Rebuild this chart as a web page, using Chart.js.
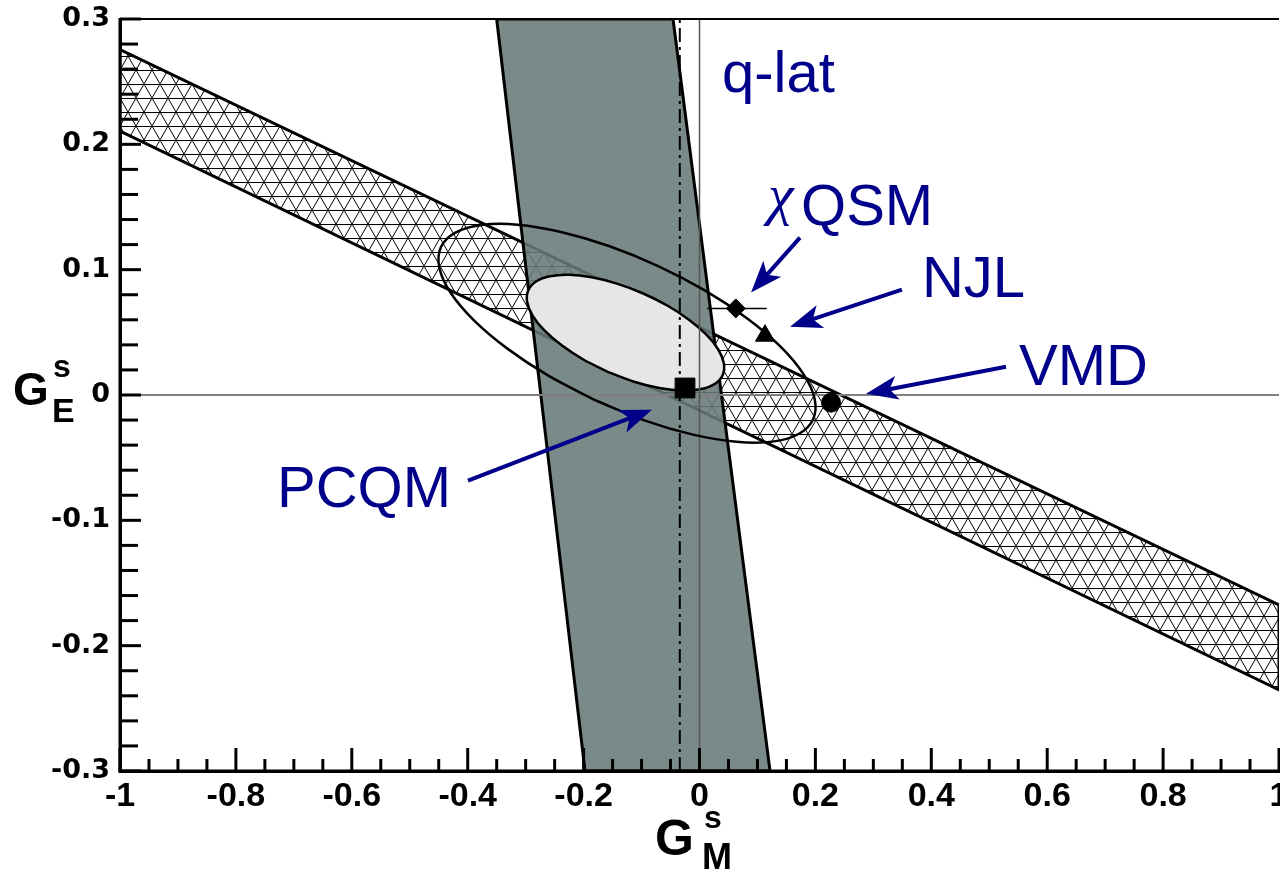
<!DOCTYPE html>
<html><head><meta charset="utf-8">
<script src="https://cdn.jsdelivr.net/npm/chart.js@4.4.1/dist/chart.umd.min.js"></script>
<style>html,body{margin:0;padding:0;background:#fff;overflow:hidden}canvas{display:block}</style>
</head><body>
<canvas id="c" width="1280" height="875"></canvas>
<script>
// ---- tick values ----
const xTicks = [-1, -0.8, -0.6, -0.4, -0.2, 0, 0.2, 0.4, 0.6, 0.8, 1];
const yTicks = [-0.3, -0.2, -0.1, 0, 0.1, 0.2, 0.3];
const xMinorStep = 0.05;
const yMinorStep = 0.02;

// ---- hatched band (closed polygon) ----
const bandX = [-1, 1, 1, -1, -1];
const bandY = [0.2755, -0.1674, -0.2353, 0.2105, 0.2755];

// ---- grey band (closed polygon) ----
const grayX = [-0.350, -0.0457, 0.1217, -0.1976, -0.350];
const grayY = [0.3, 0.3, -0.3, -0.3, 0.3];

// ---- outer contour ----
const outerX = [-0.1789, -0.2601, -0.3321, -0.3901, -0.4300, -0.4490, -0.4461, -0.4212, -0.3762, -0.3140, -0.2390, -0.1563, -0.0714, 0.0099, 0.0819, 0.1399, 0.1797, 0.1988, 0.1959, 0.1710, 0.1260, 0.0638, -0.0112, -0.0940, -0.1789];
const outerY = [-0.0044, 0.0152, 0.0372, 0.0600, 0.0820, 0.1018, 0.1181, 0.1296, 0.1357, 0.1359, 0.1301, 0.1189, 0.1029, 0.0833, 0.0613, 0.0386, 0.0165, -0.0033, -0.0195, -0.0311, -0.0372, -0.0373, -0.0316, -0.0204, -0.0044];

// ---- inner (filled) contour ----
const innerX = [-0.1573, -0.1997, -0.2372, -0.2672, -0.2878, -0.2974, -0.2954, -0.2821, -0.2582, -0.2254, -0.1860, -0.1425, -0.0981, -0.0557, -0.0182, 0.0119, 0.0324, 0.0420, 0.0401, 0.0267, 0.0028, -0.0300, -0.0694, -0.1129, -0.1573];
const innerY = [0.0183, 0.0281, 0.0394, 0.0513, 0.0632, 0.0742, 0.0835, 0.0905, 0.0947, 0.0959, 0.0939, 0.0889, 0.0812, 0.0714, 0.0601, 0.0481, 0.0363, 0.0253, 0.0160, 0.0090, 0.0048, 0.0036, 0.0056, 0.0106, 0.0183];

// ---- model points ----
const pcqmX = [-0.025], pcqmY = [0.0056];
const xqsmX = [0.0626], xqsmY = [0.0691];
const xqsmErrX = [0.013, 0.116];
const njlX = [0.113], njlY = [0.0473];
const vmdX = [0.227], vmdY = [-0.0061];
const qlatLineX = [-0.034, -0.034], qlatLineY = [-0.3, 0.3];
const zeroHX = [-1, 1], zeroHY = [0, 0];
const zeroVX = [0, 0], zeroVY = [-0.3, 0.3];

// ---- annotations (data coordinates) ----
const labels = [
  {text: 'q-lat', x: 0.044, y: 0.2414},
  {text: 'QSM', chi: true, x: 0.1217, y: 0.1359},
  {text: 'NJL', x: 0.3891, y: 0.0785},
  {text: 'VMD', x: 0.5565, y: 0.0082},
  {text: 'PCQM', x: -0.7239, y: -0.0892}
];
const arrows = [
  {x1: 0.1734, y1: 0.1256, x2: 0.0889, y2: 0.0817},
  {x1: 0.3493, y1: 0.0841, x2: 0.1562, y2: 0.0545},
  {x1: 0.5289, y1: 0.0226, x2: 0.2873, y2: 0.0010},
  {x1: -0.3995, y1: -0.0684, x2: -0.0820, y2: -0.0117}
];

const pts = (xs, ys) => xs.map((x, i) => ({x: x, y: ys[i]}));

// hatch pattern
function makeHatch() {
  const w = 16, h = 28;
  const c = document.createElement('canvas');
  c.width = w; c.height = h;
  const g = c.getContext('2d');
  g.fillStyle = '#fff'; g.fillRect(0, 0, w, h);
  g.strokeStyle = '#000'; g.lineWidth = 1;
  g.beginPath();
  g.moveTo(0, 0.5); g.lineTo(w, 0.5);
  g.moveTo(0, 14.5); g.lineTo(w, 14.5);
  for (const dx of [-w, 0, w]) for (const dy of [-h, 0, h]) {
    g.moveTo(dx, dy); g.lineTo(dx + w, dy + h);
    g.moveTo(dx + w, dy); g.lineTo(dx, dy + h);
  }
  g.stroke();
  return g.createPattern(c, 'repeat');
}

const SANS = '"Liberation Sans", Arial, Helvetica, sans-serif';
const BLUE = '#00008b';

const decor = {
  id: 'decor',
  afterDatasetsDraw(chart) {
    const {ctx, chartArea: a, scales: {x, y}} = chart;
    const line = (x1, y1, x2, y2) => { ctx.beginPath(); ctx.moveTo(x1, y1); ctx.lineTo(x2, y2); ctx.stroke(); };
    ctx.save();
    ctx.strokeStyle = '#000';
    ctx.lineCap = 'butt';
    // frame
    ctx.lineWidth = 2; line(a.left, a.top, a.right, a.top);
    ctx.lineWidth = 3;
    line(a.left, a.top - 1, a.left, a.bottom + 1.5);
    line(a.left - 1.5, a.bottom, a.right + 1, a.bottom);
    // inward ticks
    const nx = Math.round(2 / xMinorStep);
    for (let i = 0; i <= nx; i++) {
      const px = x.getPixelForValue(-1 + i * xMinorStep);
      line(px, a.bottom, px, a.bottom - (i % 4 === 0 ? 23 : 12));
    }
    const ny = Math.round(0.6 / yMinorStep);
    for (let i = 0; i <= ny; i++) {
      const py = y.getPixelForValue(-0.3 + i * yMinorStep);
      line(a.left, py, a.left + (i % 5 === 0 ? 21 : 18), py);
    }
    // axis titles
    ctx.fillStyle = '#000';
    ctx.textBaseline = 'alphabetic'; ctx.textAlign = 'left';
    ctx.font = 'bold 46px ' + SANS; ctx.fillText('G', 13, 405);
    ctx.font = 'bold 32px ' + SANS; ctx.fillText('s', 53, 377);
    ctx.font = 'bold 34px ' + SANS; ctx.fillText('E', 52, 422);
    ctx.font = 'bold 50px ' + SANS; ctx.fillText('G', 655, 855);
    ctx.font = 'bold 32px ' + SANS; ctx.fillText('s', 704, 828);
    ctx.font = 'bold 36px ' + SANS; ctx.fillText('M', 702, 869);
    // annotations
    ctx.fillStyle = BLUE; ctx.strokeStyle = BLUE;
    for (const l of labels) {
      let px = x.getPixelForValue(l.x), py = y.getPixelForValue(l.y);
      if (l.chi) {
        ctx.font = 'italic 58px "Liberation Serif", "DejaVu Serif", serif';
        ctx.fillText('\u03C7', px - 2, py - 11);
        px += 34;
      }
      ctx.font = '58px ' + SANS;
      ctx.fillText(l.text, px - 3, py);
    }
    for (const r of arrows) {
      const x1 = x.getPixelForValue(r.x1), y1 = y.getPixelForValue(r.y1);
      const x2 = x.getPixelForValue(r.x2), y2 = y.getPixelForValue(r.y2);
      const ang = Math.atan2(y2 - y1, x2 - x1), c = Math.cos(ang), s = Math.sin(ang);
      const L = 32, W = 12;
      const bx = x2 - L * c, by = y2 - L * s;
      ctx.lineWidth = 4;
      line(x1, y1, x2 - (L * 0.7) * c, y2 - (L * 0.7) * s);
      ctx.beginPath();
      ctx.moveTo(x2, y2);
      ctx.lineTo(bx - W * s, by + W * c);
      ctx.lineTo(x2 - L * 0.75 * c, y2 - L * 0.75 * s);
      ctx.lineTo(bx + W * s, by - W * c);
      ctx.closePath(); ctx.fill();
    }
    ctx.restore();
  }
};

const lineDs = (data, o) => Object.assign({
  data: data, showLine: true, pointRadius: 0, pointHoverRadius: 0, fill: false,
  borderColor: '#000', borderWidth: 2, clip: 0, tension: 0
}, o);
const markDs = (data, style, r, o) => Object.assign({
  data: data, showLine: false, pointStyle: style, pointRadius: r, pointHoverRadius: r,
  pointBackgroundColor: '#000', pointBorderColor: '#000', pointBorderWidth: 1, clip: 0
}, o);

new Chart(document.getElementById('c'), {
  type: 'scatter',
  data: {
    datasets: [
      markDs(pts(pcqmX, pcqmY), 'rect', 14, {order: 0}),
      markDs(pts(xqsmX, xqsmY), 'rectRot', 9.5, {order: 0}),
      markDs(pts(njlX, njlY), 'triangle', 11, {order: 0}),
      markDs(pts(vmdX, vmdY), 'circle', 9.5, {order: 0}),
      lineDs(pts(xqsmErrX, [xqsmY[0], xqsmY[0]]), {borderWidth: 1.5, order: 1}),
      lineDs(pts(outerX, outerY), {borderWidth: 2.5, tension: 0.33, borderJoinStyle: 'round', order: 2}),
      lineDs(pts(qlatLineX, qlatLineY), {borderWidth: 2, borderDash: [14, 5, 3, 5], order: 3}),
      lineDs(pts(zeroVX, zeroVY), {borderWidth: 1.5, borderColor: '#555', order: 3}),
      lineDs(pts(zeroHX, zeroHY), {borderWidth: 2, borderColor: '#7f7f7f', order: 3}),
      lineDs(pts(innerX, innerY), {borderWidth: 2.5, tension: 0.33, borderJoinStyle: 'round', fill: 'shape', backgroundColor: '#e6e6e6', order: 4}),
      lineDs(pts(grayX, grayY), {borderWidth: 3, fill: 'shape', backgroundColor: 'rgba(104,122,119,0.88)', order: 5}),
      lineDs(pts(bandX, bandY), {borderWidth: 3, fill: 'shape', backgroundColor: makeHatch(), order: 6})
    ]
  },
  options: {
    responsive: false,
    animation: false,
    events: [],
    layout: {autoPadding: false, padding: {top: 19, right: 1, bottom: 0, left: 0}},
    plugins: {legend: {display: false}, tooltip: {enabled: false}},
    scales: {
      x: {
        type: 'linear', min: -1, max: 1,
        afterBuildTicks: s => { s.ticks = xTicks.map(v => ({value: v})); },
        afterFit: s => { s.height = 104; s.paddingLeft = 0; s.paddingRight = 0; },
        grid: {display: false, drawTicks: false},
        border: {display: true, color: '#000', width: 3},
        ticks: {
          padding: 5, color: '#000', maxRotation: 0, autoSkip: false,
          font: {family: SANS, weight: 'bold', size: 34},
          callback: v => String(Math.round(v * 10) / 10)
        }
      },
      y: {
        type: 'linear', min: -0.3, max: 0.3,
        afterBuildTicks: s => { s.ticks = yTicks.map(v => ({value: v})); },
        afterFit: s => { s.width = 120; s.paddingTop = 0; s.paddingBottom = 0; },
        grid: {display: false, drawTicks: false},
        border: {display: true, color: '#000', width: 3},
        ticks: {
          padding: 10, color: '#000', autoSkip: false,
          font: {family: '"DejaVu Sans", sans-serif', weight: 'bold', size: 27},
          callback: v => String(Math.round(v * 10) / 10)
        }
      }
    }
  },
  plugins: [decor]
});
</script>
</body></html>
